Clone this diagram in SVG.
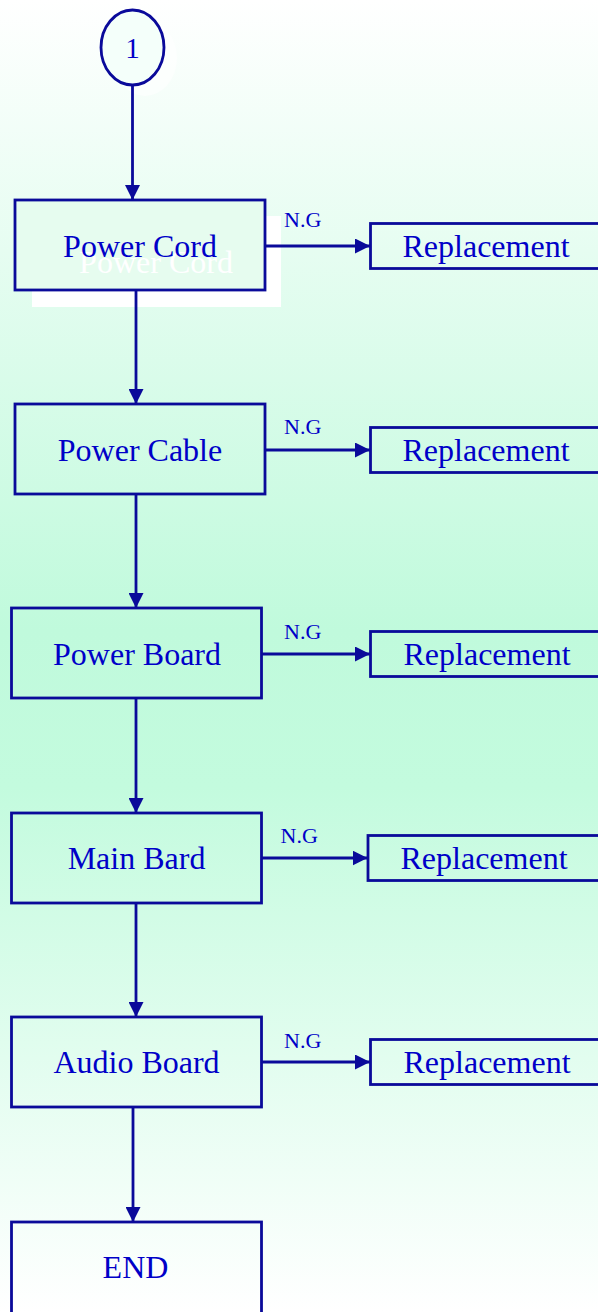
<svg xmlns="http://www.w3.org/2000/svg" width="598" height="1312" viewBox="0 0 598 1312">
<defs>
<linearGradient id="bg" x1="0" y1="0" x2="0" y2="1">
<stop offset="0" stop-color="#ffffff"/>
<stop offset="0.48" stop-color="#c0fadc"/>
<stop offset="0.6" stop-color="#c3fbde"/>
<stop offset="1" stop-color="#ffffff"/>
</linearGradient>
<marker id="ah" viewBox="0 0 10 10" refX="10" refY="5" markerWidth="15" markerHeight="15" markerUnits="userSpaceOnUse" orient="auto">
<path d="M0,0 L10,5 L0,10 Z" fill="#0a0a9a"/>
</marker>
<style>
.box{fill:none;stroke:#0a0a9a;stroke-width:2.8}
.lbl{font-family:"Liberation Serif","Times New Roman",serif;font-size:32px;fill:#0000c8;text-anchor:middle}
.ng{font-family:"Liberation Serif","Times New Roman",serif;font-size:22px;fill:#0000c8}
.conn{stroke:#0a0a9a;stroke-width:2.8;fill:none;marker-end:url(#ah)}
</style>
</defs>
<rect x="0" y="0" width="598" height="1312" fill="url(#bg)"/>

<g id="start">
<ellipse cx="145" cy="58" rx="32" ry="38" fill="#ffffff" opacity="0.6"/>
<ellipse cx="132.5" cy="47.5" rx="31.5" ry="37.5" fill="#f4fffa" stroke="#0a0a9a" stroke-width="2.8"/>
<text x="132.5" y="58" class="lbl" style="font-size:29px">1</text>
</g>

<g id="power-cord">
<rect x="32" y="216" width="249" height="91" fill="#ffffff"/>
<rect x="15" y="200" width="250" height="90" fill="#e6fcef" stroke="#0a0a9a" stroke-width="2.8"/>
<text x="156" y="273" class="lbl" style="fill:#ffffff">Power Cord</text>
<text x="140" y="257" class="lbl">Power Cord</text>
</g>
<g id="rep1">
<rect x="370.5" y="223.5" width="240" height="45" class="box"/>
<text x="486" y="257" class="lbl">Replacement</text>
</g>

<g id="power-cable">
<rect x="15" y="404" width="250" height="90" class="box"/>
<text x="140" y="461" class="lbl">Power Cable</text>
</g>
<g id="rep2">
<rect x="370.5" y="427.5" width="240" height="45" class="box"/>
<text x="486" y="461" class="lbl">Replacement</text>
</g>

<g id="power-board">
<rect x="11.5" y="608" width="250" height="90" class="box"/>
<text x="137" y="665" class="lbl">Power Board</text>
</g>
<g id="rep3">
<rect x="370.5" y="631.5" width="240" height="45" class="box"/>
<text x="487" y="665" class="lbl">Replacement</text>
</g>

<g id="main-bard">
<rect x="11.5" y="813" width="250" height="90" class="box"/>
<text x="136.5" y="869" class="lbl">Main Bard</text>
</g>
<g id="rep4">
<rect x="368" y="835.5" width="240" height="45" class="box"/>
<text x="484" y="869" class="lbl">Replacement</text>
</g>

<g id="audio-board">
<rect x="11.5" y="1017" width="250" height="90" class="box"/>
<text x="136.5" y="1073" class="lbl">Audio Board</text>
</g>
<g id="rep5">
<rect x="370.5" y="1039.5" width="240" height="45" class="box"/>
<text x="487" y="1073" class="lbl">Replacement</text>
</g>

<g id="end">
<rect x="11.5" y="1222" width="250" height="92" class="box"/>
<text x="135.5" y="1278" class="lbl">END</text>
</g>

<g id="connectors">
<line x1="132.5" y1="85" x2="132.5" y2="200" class="conn"/>
<line x1="136" y1="290" x2="136" y2="404" class="conn"/>
<line x1="136" y1="494" x2="136" y2="608" class="conn"/>
<line x1="136" y1="698" x2="136" y2="813" class="conn"/>
<line x1="136" y1="903" x2="136" y2="1017" class="conn"/>
<line x1="133" y1="1107" x2="133" y2="1222" class="conn"/>
<line x1="265" y1="246" x2="370" y2="246" class="conn"/>
<line x1="265" y1="450" x2="370" y2="450" class="conn"/>
<line x1="262" y1="654" x2="370" y2="654" class="conn"/>
<line x1="262" y1="858" x2="367.5" y2="858" class="conn"/>
<line x1="262" y1="1062" x2="370" y2="1062" class="conn"/>
<text x="284" y="227" class="ng">N.G</text>
<text x="284" y="434" class="ng">N.G</text>
<text x="284" y="639" class="ng">N.G</text>
<text x="280.5" y="843" class="ng">N.G</text>
<text x="284" y="1048" class="ng">N.G</text>
</g>
</svg>
